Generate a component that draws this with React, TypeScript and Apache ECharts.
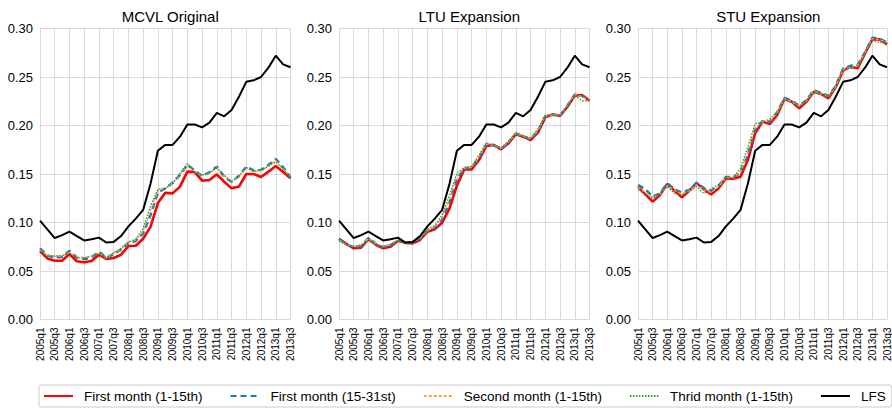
import React, { useEffect, useRef } from "react";
import * as echarts from "echarts";

const quarters: string[] = [];
for (let y = 2005; y <= 2013; y++) {
  for (let q = 1; q <= 4; q++) {
    if (y === 2013 && q > 3) break;
    quarters.push(`${y}q${q}`);
  }
}

const panelTitles = ["MCVL Original", "LTU Expansion", "STU Expansion"];
const seriesNames = [
  "First month (1-15th)",
  "First month (15-31st)",
  "Second month (1-15th)",
  "Thrid month (1-15th)",
  "LFS",
];

const lfs = [0.102, 0.093, 0.084, 0.087, 0.0905, 0.086, 0.0815, 0.0827, 0.0844, 0.0794, 0.08, 0.086, 0.096, 0.104, 0.113, 0.14, 0.174, 0.18, 0.18, 0.1885, 0.201, 0.201, 0.198, 0.203, 0.213, 0.2095, 0.216, 0.2297, 0.245, 0.2466, 0.25, 0.2596, 0.272, 0.263, 0.26];

// MCVL Original
const mcvlFirst1 = [0.0706, 0.063, 0.0606, 0.0606, 0.0675, 0.06, 0.059, 0.0603, 0.0668, 0.0624, 0.0634, 0.0668, 0.0758, 0.076, 0.0833, 0.0955, 0.12, 0.1307, 0.13, 0.137, 0.1524, 0.152, 0.1431, 0.1438, 0.1497, 0.142, 0.1352, 0.137, 0.15, 0.15, 0.1469, 0.1524, 0.1582, 0.152, 0.1455];
const mcvlFirst2 = [0.0734, 0.066, 0.064, 0.0645, 0.0706, 0.064, 0.0624, 0.064, 0.07, 0.0634, 0.0675, 0.072, 0.079, 0.081, 0.0889, 0.1077, 0.131, 0.1352, 0.141, 0.149, 0.1593, 0.1534, 0.148, 0.1517, 0.1576, 0.1472, 0.142, 0.148, 0.1576, 0.1534, 0.154, 0.1593, 0.1655, 0.157, 0.1466];
const mcvlSecond = [0.072, 0.066, 0.065, 0.0655, 0.069, 0.0645, 0.064, 0.065, 0.0685, 0.0635, 0.068, 0.0725, 0.0795, 0.082, 0.091, 0.112, 0.1325, 0.135, 0.1405, 0.15, 0.1585, 0.1525, 0.1485, 0.151, 0.1565, 0.148, 0.1425, 0.1475, 0.156, 0.1525, 0.1535, 0.158, 0.164, 0.1555, 0.1475];
const mcvlThird = [0.071, 0.0655, 0.0655, 0.066, 0.068, 0.0635, 0.0635, 0.0655, 0.068, 0.064, 0.069, 0.0735, 0.08, 0.083, 0.094, 0.117, 0.1345, 0.135, 0.14, 0.1505, 0.161, 0.1525, 0.149, 0.151, 0.156, 0.1485, 0.142, 0.148, 0.157, 0.153, 0.1545, 0.158, 0.1625, 0.155, 0.1455];

// LTU Expansion
const ltuFirst1 = [0.0833, 0.078, 0.0734, 0.074, 0.083, 0.077, 0.0734, 0.075, 0.0813, 0.079, 0.0785, 0.082, 0.0905, 0.093, 0.0998, 0.1146, 0.138, 0.1548, 0.1548, 0.1644, 0.1789, 0.18, 0.1754, 0.1816, 0.191, 0.1885, 0.185, 0.1926, 0.2084, 0.2115, 0.2098, 0.2194, 0.2307, 0.2314, 0.2256];
const ltuFirst2 = [0.083, 0.0775, 0.0745, 0.0755, 0.084, 0.078, 0.0745, 0.0765, 0.082, 0.0795, 0.079, 0.083, 0.0915, 0.0945, 0.103, 0.121, 0.145, 0.1555, 0.1565, 0.167, 0.1805, 0.1795, 0.176, 0.1825, 0.1915, 0.1885, 0.186, 0.194, 0.2095, 0.211, 0.2105, 0.2205, 0.232, 0.2305, 0.226];
const ltuSecond = [0.082, 0.077, 0.0755, 0.0765, 0.0835, 0.0785, 0.0755, 0.0775, 0.0825, 0.08, 0.0805, 0.0835, 0.092, 0.0955, 0.105, 0.124, 0.148, 0.156, 0.157, 0.168, 0.181, 0.1795, 0.1765, 0.183, 0.192, 0.189, 0.1865, 0.195, 0.21, 0.211, 0.2105, 0.221, 0.232, 0.2295, 0.2255];
const ltuThird = [0.081, 0.0765, 0.0755, 0.077, 0.081, 0.0775, 0.075, 0.0775, 0.081, 0.0785, 0.0795, 0.084, 0.093, 0.097, 0.108, 0.128, 0.151, 0.157, 0.158, 0.1695, 0.1825, 0.1795, 0.177, 0.184, 0.193, 0.1895, 0.187, 0.1965, 0.2105, 0.2115, 0.2095, 0.2205, 0.231, 0.2255, 0.2255];

// STU Expansion
const stuFirst1 = [0.1369, 0.129, 0.1215, 0.1283, 0.1397, 0.1328, 0.126, 0.1328, 0.1404, 0.1342, 0.129, 0.1352, 0.1455, 0.145, 0.1472, 0.1644, 0.192, 0.204, 0.2015, 0.2108, 0.2273, 0.2245, 0.2177, 0.2245, 0.2349, 0.2325, 0.228, 0.2394, 0.2565, 0.2606, 0.259, 0.2744, 0.2888, 0.2888, 0.2837];
const stuFirst2 = [0.1386, 0.1345, 0.1266, 0.13, 0.1404, 0.134, 0.131, 0.1335, 0.141, 0.1352, 0.1328, 0.1376, 0.147, 0.1466, 0.1514, 0.17, 0.196, 0.2045, 0.204, 0.2135, 0.2285, 0.2255, 0.2205, 0.226, 0.2365, 0.2335, 0.2305, 0.2405, 0.2585, 0.2615, 0.2625, 0.2755, 0.2905, 0.2895, 0.2855];
const stuSecond = [0.1365, 0.131, 0.126, 0.129, 0.138, 0.133, 0.1295, 0.1325, 0.139, 0.1335, 0.131, 0.137, 0.146, 0.146, 0.1525, 0.173, 0.198, 0.204, 0.2045, 0.2135, 0.2275, 0.2245, 0.22, 0.2255, 0.2355, 0.2325, 0.2295, 0.24, 0.2575, 0.26, 0.2615, 0.275, 0.2895, 0.2885, 0.2855];
const stuThird = [0.1335, 0.129, 0.125, 0.1295, 0.137, 0.13, 0.1283, 0.132, 0.137, 0.13, 0.135, 0.139, 0.147, 0.1465, 0.156, 0.178, 0.202, 0.2035, 0.2065, 0.2145, 0.2265, 0.2235, 0.2195, 0.226, 0.2345, 0.232, 0.2295, 0.2415, 0.259, 0.2585, 0.2625, 0.2745, 0.288, 0.2855, 0.2855];

const panelData = [
  [mcvlFirst1, mcvlFirst2, mcvlSecond, mcvlThird, lfs],
  [ltuFirst1, ltuFirst2, ltuSecond, ltuThird, lfs],
  [stuFirst1, stuFirst2, stuSecond, stuThird, lfs],
];

const FONT = "'Liberation Sans', Arial, Helvetica, sans-serif";

const lineStyles = [
  { color: "#ff0000", width: 2.6, type: "solid" as any },
  { color: "#1f78b8", width: 2.5, type: [6, 4] as any },
  { color: "#ffa040", width: 1.3, type: [3, 2] as any },
  { color: "#2e9a2e", width: 1.3, type: [1.5, 1.5] as any },
  { color: "#000000", width: 2, type: "solid" as any },
];

const gridLefts = [40, 339, 638];
const gridWidth = 250.5;

export default function App() {
  const ref = useRef<HTMLDivElement>(null);
  useEffect(() => {
    if (!ref.current) return;
    const chart = echarts.init(ref.current, undefined, { renderer: "svg" });
    const grids = gridLefts.map((l) => ({ left: l, top: 28.5, width: gridWidth, height: 291 }));
    const xAxes = gridLefts.map((_, i) => ({
      type: "category",
      gridIndex: i,
      data: quarters,
      boundaryGap: false,
      axisLine: { show: false },
      axisTick: { show: false, interval: 1 },
      axisLabel: {
        interval: 1,
        rotate: 90,
        fontSize: 10,
        color: "#000",
        fontFamily: FONT,
        margin: 8,
      },
      splitLine: { show: true, interval: 1, lineStyle: { color: "#d9d9d9", width: 1 } },
    }));
    const yAxes = gridLefts.map((_, i) => ({
      type: "value",
      gridIndex: i,
      min: 0,
      max: 0.3,
      interval: 0.05,
      axisLine: { show: false },
      axisTick: { show: false },
      axisLabel: {
        fontSize: 13,
        color: "#000",
        fontFamily: FONT,
        margin: 7,
        formatter: (v: number) => v.toFixed(2),
      },
      splitLine: { show: true, lineStyle: { color: "#d9d9d9", width: 1 } },
    }));
    const series: any[] = [];
    panelData.forEach((arrs, p) => {
      arrs.forEach((d, s) => {
        series.push({
          type: "line",
          name: seriesNames[s],
          xAxisIndex: p,
          yAxisIndex: p,
          data: d,
          symbol: "none",
          lineStyle: lineStyles[s],
          itemStyle: { color: lineStyles[s].color },
          z: 2 + s,
        });
      });
    });
    const titles = panelTitles.map((t, i) => ({
      text: t,
      left: gridLefts[i] + gridWidth / 2,
      textAlign: "center",
      top: 4,
      textStyle: { fontSize: 15, fontWeight: "normal", color: "#000", fontFamily: FONT },
    }));
    chart.setOption({
      animation: false,
      backgroundColor: "#fff",
      title: titles,
      grid: grids,
      xAxis: xAxes,
      yAxis: yAxes,
      legend: {
        data: seriesNames,
        left: 39,
        top: 385,
        width: 880,
        padding: [4, 6, 4, 4],
        itemGap: 27,
        itemWidth: 29,
        itemHeight: 14,
        itemStyle: { opacity: 0 },
        borderColor: "#cccccc",
        borderWidth: 1,
        borderRadius: 2,
        formatter: (name: string) => `{sp| }${name}`,
        textStyle: {
          fontSize: 13.5,
          color: "#000",
          fontFamily: FONT,
          rich: { sp: { width: 6, fontSize: 13.5 } },
        },
      },
      series,
    });
    return () => chart.dispose();
  }, []);
  return (
    <div
      ref={ref}
      style={{ position: "fixed", left: 0, top: 0, width: 892, height: 409 }}
    />
  );
}
